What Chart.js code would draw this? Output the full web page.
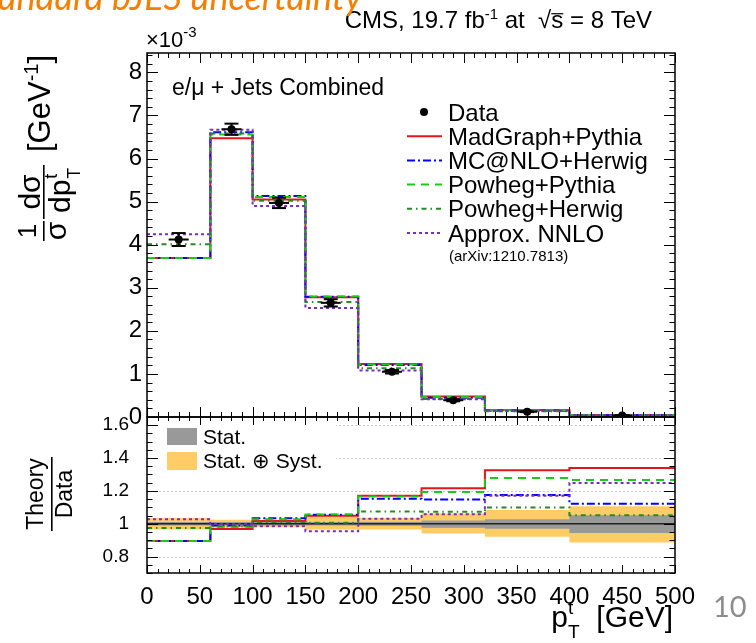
<!DOCTYPE html>
<html>
<head>
<meta charset="utf-8">
<script src="https://cdn.jsdelivr.net/npm/chart.js@4.4.1/dist/chart.umd.min.js"></script>
<style>
  html, body { margin: 0; padding: 0; background: #fff; }
  #wrap { position: relative; width: 756px; height: 643px; }
</style>
</head>
<body>
<div id="wrap"><canvas id="ptChart" width="756" height="643"></canvas></div>
<script>
// top quark pT, normalised differential cross section (units of 1e-3 GeV^-1)
const binEdges = [0, 60, 100, 150, 200, 260, 320, 400, 500];
const dataX = [30, 80, 125, 174, 232, 290, 360, 450];
const dataY = [4.12, 6.68, 4.97, 2.65, 1.05, 0.39, 0.123, 0.035];
const dataErr = [0.15, 0.13, 0.12, 0.085, 0.04, 0.025, 0.01, 0.004];

const madgraphPythia = [3.69, 6.47, 5.05, 2.78, 1.23, 0.474, 0.163, 0.047];
const mcatnloHerwig = [3.69, 6.61, 5.13, 2.79, 1.21, 0.448, 0.145, 0.039];
const powhegPythia = [3.69, 6.56, 5.11, 2.80, 1.22, 0.465, 0.157, 0.044];
const powhegHerwig = [4.01, 6.58, 5.02, 2.67, 1.13, 0.418, 0.135, 0.037];
const approxNNLO = [4.24, 6.67, 4.90, 2.53, 1.08, 0.413, 0.144, 0.044];

// theory / data
const ratioMadgraphPythia = [0.895, 0.968, 1.017, 1.048, 1.171, 1.216, 1.326, 1.339];
const ratioMcatnloHerwig = [0.895, 0.990, 1.033, 1.054, 1.152, 1.148, 1.175, 1.121];
const ratioPowhegPythia = [0.895, 0.982, 1.028, 1.056, 1.166, 1.193, 1.279, 1.267];
const ratioPowhegHerwig = [0.974, 0.985, 1.010, 1.006, 1.075, 1.073, 1.099, 1.052];
const ratioApproxNNLO = [1.028, 0.998, 0.985, 0.954, 1.030, 1.058, 1.170, 1.248];

// uncertainty bands on the ratio
const statLow = [0.99, 0.99, 0.99, 0.99, 0.988, 0.975, 0.97, 0.944];
const statHigh = [1.01, 1.01, 1.01, 1.01, 1.012, 1.02, 1.027, 1.052];
const totalLow = [0.965, 0.975, 0.98, 0.965, 0.965, 0.94, 0.92, 0.885];
const totalHigh = [1.035, 1.025, 1.02, 1.045, 1.035, 1.062, 1.083, 1.107];
const unityRatio = [1, 1];

const xTicks = [0, 50, 100, 150, 200, 250, 300, 350, 400, 450, 500];
const yTicks = [0, 1, 2, 3, 4, 5, 6, 7, 8];
const ratioTicks = [0.8, 1, 1.2, 1.4, 1.6];

const FONT = '"Liberation Sans", Arial, Helvetica, sans-serif';
Chart.defaults.font.family = FONT;

function histPoints(values) {
  const pts = values.map((v, i) => ({ x: binEdges[i], y: v }));
  pts.push({ x: binEdges[binEdges.length - 1], y: values[values.length - 1] });
  return pts;
}

function histLine(label, values, axis, color, dash, order) {
  return {
    type: 'line', label, data: histPoints(values), yAxisID: axis,
    borderColor: color, borderWidth: 2, borderDash: dash, borderCapStyle: 'butt',
    pointRadius: 0, stepped: true, fill: false, order
  };
}

function bandLine(values, color, fillTarget, order) {
  return {
    type: 'line', data: histPoints(values), yAxisID: 'yRatio',
    borderColor: 'rgba(0,0,0,0)', borderWidth: 0, pointRadius: 0, stepped: true,
    backgroundColor: color, fill: fillTarget, order
  };
}

const COLORS = {
  madgraph: '#e3161c',
  mcatnlo: '#0000ff',
  powhegPy: '#18cc18',
  powhegHw: '#238b23',
  nnlo: '#7b2dbd'
};
const DASH = {
  madgraph: [],
  mcatnlo: [8, 3, 2, 3],
  powhegPy: [8, 6],
  powhegHw: [5, 4, 1.5, 4],
  nnlo: [3, 3]
};

const datasets = [
  // upper pad
  histLine('MadGraph+Pythia', madgraphPythia, 'y', COLORS.madgraph, DASH.madgraph, 6),
  histLine('MC@NLO+Herwig', mcatnloHerwig, 'y', COLORS.mcatnlo, DASH.mcatnlo, 5),
  histLine('Powheg+Pythia', powhegPythia, 'y', COLORS.powhegPy, DASH.powhegPy, 4),
  histLine('Powheg+Herwig', powhegHerwig, 'y', COLORS.powhegHw, DASH.powhegHw, 3),
  histLine('Approx. NNLO', approxNNLO, 'y', COLORS.nnlo, DASH.nnlo, 2),
  {
    type: 'line', label: 'Data', yAxisID: 'y', showLine: false,
    data: dataX.map((x, i) => ({ x, y: dataY[i] })),
    pointRadius: 4, pointBackgroundColor: '#000', pointBorderWidth: 0, order: 0
  },
  // ratio pad
  bandLine(totalHigh, '#ffcc66', '+1', 30),
  bandLine(totalLow, '#ffcc66', false, 30),
  bandLine(statHigh, '#999999', '+1', 28),
  bandLine(statLow, '#999999', false, 28),
  {
    type: 'line', yAxisID: 'yRatio',
    data: [binEdges[0], binEdges[8]].map((x, i) => ({ x, y: unityRatio[i] })),
    borderColor: '#222', borderWidth: 1.5, pointRadius: 0, fill: false, order: 20
  },
  histLine('r1', ratioMadgraphPythia, 'yRatio', COLORS.madgraph, DASH.madgraph, 16),
  histLine('r2', ratioMcatnloHerwig, 'yRatio', COLORS.mcatnlo, DASH.mcatnlo, 15),
  histLine('r3', ratioPowhegPythia, 'yRatio', COLORS.powhegPy, DASH.powhegPy, 14),
  histLine('r4', ratioPowhegHerwig, 'yRatio', COLORS.powhegHw, DASH.powhegHw, 13),
  histLine('r5', ratioApproxNNLO, 'yRatio', COLORS.nnlo, DASH.nnlo, 12)
];
const DATA_INDEX = 5;

function seg(ctx, x1, y1, x2, y2) {
  ctx.beginPath();
  ctx.moveTo(x1, y1);
  ctx.lineTo(x2, y2);
  ctx.stroke();
}

// ROOT-style inward ticks on all four sides of a pad
function padTicks(ctx, xs, ys, o) {
  ctx.strokeStyle = '#000';
  ctx.lineWidth = 1;
  const nx = Math.round((xs.max - xs.min) / o.xMinor);
  for (let i = 0; i <= nx; i++) {
    const v = xs.min + i * o.xMinor;
    const px = Math.round(xs.getPixelForValue(v)) + 0.5;
    const major = Math.abs(v / o.xMajor - Math.round(v / o.xMajor)) < 1e-6;
    const len = major ? o.xLen : o.xLen / 2;
    seg(ctx, px, ys.bottom, px, ys.bottom - len);
    seg(ctx, px, ys.top, px, ys.top + len);
  }
  const start = Math.ceil(ys.min / o.yMinor - 1e-6);
  const end = Math.floor(ys.max / o.yMinor + 1e-6);
  for (let k = start; k <= end; k++) {
    const v = k * o.yMinor;
    const py = Math.round(ys.getPixelForValue(v)) + 0.5;
    const major = Math.abs(v / o.yMajor - Math.round(v / o.yMajor)) < 1e-6;
    const len = major ? o.yLen : o.yLen / 2;
    seg(ctx, xs.left, py, xs.left + len, py);
    seg(ctx, xs.right, py, xs.right - len, py);
  }
  ctx.lineWidth = 1.5;
  ctx.strokeRect(xs.left, ys.top, xs.right - xs.left, ys.bottom - ys.top);
}

// text made of pieces with super/subscripts
function richWidth(ctx, parts) {
  let w = 0;
  parts.forEach(p => {
    ctx.font = p.size + 'px ' + FONT;
    if (!p.stack) w += ctx.measureText(p.t).width;
  });
  return w;
}
function drawRich(ctx, parts, x, y) {
  let cx = x;
  parts.forEach(p => {
    ctx.font = p.size + 'px ' + FONT;
    ctx.fillText(p.t, cx, y + (p.dy || 0));
    const pw = ctx.measureText(p.t).width;
    if (p.over) ctx.fillRect(cx, y - p.size * 0.62, pw, 1.2);
    if (!p.stack) cx += pw;
  });
}

const rootPad = {
  id: 'rootPad',
  beforeDatasetsDraw(chart) {
    const { ctx } = chart;
    const xs = chart.scales.x, rs = chart.scales.yRatio;
    ctx.save();
    ctx.strokeStyle = '#c8c8c8';
    ctx.lineWidth = 1;
    ctx.setLineDash([2, 2]);
    ratioTicks.filter(v => v !== 1).forEach(v => {
      const py = Math.round(rs.getPixelForValue(v)) + 0.5;
      seg(ctx, xs.left, py, xs.right, py);
    });
    ctx.setLineDash([]);
    // white legend box hides the grid behind it
    ctx.fillStyle = '#fff';
    ctx.fillRect(xs.left + 1, rs.top + 1, 188, 60);
    ctx.restore();
  },
  beforeDatasetDraw(chart, args) {
    if (args.index !== DATA_INDEX) return;
    const { ctx } = chart;
    const xs = chart.scales.x, ys = chart.scales.y;
    ctx.save();
    ctx.strokeStyle = '#000';
    ctx.lineWidth = 2;
    dataX.forEach((x, i) => {
      const px = xs.getPixelForValue(x);
      const py = ys.getPixelForValue(dataY[i]);
      const hi = ys.getPixelForValue(dataY[i] + dataErr[i]);
      const lo = ys.getPixelForValue(dataY[i] - dataErr[i]);
      seg(ctx, px, hi, px, lo);
      seg(ctx, px - 7, hi, px + 7, hi);
      seg(ctx, px - 7, lo, px + 7, lo);
      seg(ctx, px - 10, py, px + 10, py);
    });
    ctx.restore();
  },
  afterDatasetsDraw(chart) {
    const { ctx } = chart;
    const xs = chart.scales.x, ys = chart.scales.y, rs = chart.scales.yRatio;
    ctx.save();
    padTicks(ctx, xs, ys, { xMajor: 50, xMinor: 10, xLen: 10, yMajor: 1, yMinor: 0.2, yLen: 11 });
    padTicks(ctx, xs, rs, { xMajor: 50, xMinor: 10, xLen: 8, yMajor: 0.2, yMinor: 0.05, yLen: 11 });

    // upper legend
    const entries = [
      ['Data', null],
      ['MadGraph+Pythia', 'madgraph'],
      ['MC@NLO+Herwig', 'mcatnlo'],
      ['Powheg+Pythia', 'powhegPy'],
      ['Powheg+Herwig', 'powhegHw'],
      ['Approx. NNLO', 'nnlo']
    ];
    ctx.fillStyle = '#000';
    ctx.textAlign = 'left';
    ctx.textBaseline = 'alphabetic';
    entries.forEach(([label, key], i) => {
      const cy = 112 + i * 24.2;
      if (key) {
        ctx.strokeStyle = COLORS[key];
        ctx.lineWidth = 2;
        ctx.setLineDash(DASH[key]);
        seg(ctx, 407, cy, 442, cy);
        ctx.setLineDash([]);
      } else {
        ctx.beginPath();
        ctx.arc(424, cy, 4, 0, Math.PI * 2);
        ctx.fill();
      }
      ctx.font = '24px ' + FONT;
      ctx.fillText(label, 448, cy + 8.6);
    });
    ctx.font = '15px ' + FONT;
    ctx.fillText('(arXiv:1210.7813)', 449, 261);

    // ratio legend
    ctx.fillStyle = '#999999';
    ctx.fillRect(167, 428, 30, 17);
    ctx.fillStyle = '#ffcc66';
    ctx.fillRect(167, 452, 30, 18);
    ctx.fillStyle = '#000';
    ctx.font = '21px ' + FONT;
    ctx.fillText('Stat.', 203, 444);
    ctx.fillText('Stat. \u2295 Syst.', 203, 468);
    ctx.restore();
  },
  afterDraw(chart) {
    const { ctx } = chart;
    ctx.save();
    ctx.fillStyle = '#000';
    ctx.textBaseline = 'alphabetic';
    ctx.textAlign = 'left';

    // headline
    const cms = [
      { t: 'CMS, 19.7 fb', size: 24 },
      { t: '-1', size: 15, dy: -9 },
      { t: ' at  \u221A', size: 24 },
      { t: 's', size: 24, over: true },
      { t: ' = 8 TeV', size: 24 }
    ];
    drawRich(ctx, cms, 652 - richWidth(ctx, cms), 28);

    drawRich(ctx, [{ t: '\u00D710', size: 22 }, { t: '-3', size: 15, dy: -10 }], 146, 47);

    ctx.font = '23px ' + FONT;
    ctx.fillText('e/\u03BC + Jets Combined', 172, 95);

    // x axis title
    const xt = [
      { t: 'p', size: 30 },
      { t: 't', size: 19, dy: -13, stack: true },
      { t: 'T', size: 19, dy: 11 },
      { t: '  [GeV]', size: 30 }
    ];
    drawRich(ctx, xt, 673 - richWidth(ctx, xt), 627);

    // y axis titles (rotated: x' = -screenY, y' = screenX)
    ctx.rotate(-Math.PI / 2);
    ctx.textAlign = 'center';
    ctx.font = '26px ' + FONT;
    ctx.fillText('1', -231, 36);
    ctx.font = '30px ' + FONT;
    ctx.fillText('\u03C3', -231, 66);
    ctx.fillRect(-241, 43, 20, 1.6);

    ctx.fillText('d\u03C3', -192, 40);
    ctx.fillRect(-219, 43, 54, 1.6);
    ctx.textAlign = 'left';
    const dpW = ctx.measureText('dp').width;
    ctx.fillText('dp', -213, 70);
    ctx.font = '18px ' + FONT;
    ctx.fillText('t', -213 + dpW + 1, 57);
    ctx.fillText('T', -213 + dpW + 1, 80);

    drawRich(ctx, [
      { t: '[GeV', size: 31 },
      { t: '-1', size: 20, dy: -12 },
      { t: ']', size: 31 }
    ], -152, 50);

    ctx.textAlign = 'center';
    ctx.font = '23px ' + FONT;
    ctx.fillText('Theory', -494, 43);
    ctx.fillRect(-531, 51, 74, 1.6);
    ctx.fillText('Data', -494, 72);
    ctx.restore();

    // slide decoration around the figure
    ctx.save();
    ctx.textAlign = 'right';
    ctx.fillStyle = '#f77f00';
    ctx.font = 'italic 36px Lato, "Open Sans", sans-serif';
    ctx.fillText('Standard bJES uncertainty', 362, 10);
    ctx.textAlign = 'left';
    ctx.fillStyle = '#8c8c8c';
    ctx.font = '29px Lato, "Open Sans", sans-serif';
    ctx.fillText('10', 713, 617);
    ctx.restore();
  }
};

new Chart(document.getElementById('ptChart'), {
  type: 'line',
  data: { datasets },
  plugins: [rootPad],
  options: {
    responsive: false,
    animation: false,
    devicePixelRatio: 1,
    layout: { padding: { top: 53, right: 81, left: 0, bottom: 0 } },
    plugins: { legend: { display: false }, tooltip: { enabled: false } },
    scales: {
      x: {
        type: 'linear', min: 0, max: 500, position: 'bottom',
        grid: { display: false }, border: { display: false },
        afterBuildTicks: s => { s.ticks = xTicks.map(v => ({ value: v })); },
        afterFit: s => { s.height = 70; },
        ticks: {
          autoSkip: false, maxRotation: 0, padding: 2, color: '#000',
          font: { size: 24 }, callback: v => String(v)
        }
      },
      yRatio: {
        type: 'linear', axis: 'y', min: 0.7, max: 1.65, position: 'left', stack: 'pads', stackWeight: 156,
        grid: { display: false, drawTicks: false }, border: { display: false },
        afterBuildTicks: s => { s.ticks = ratioTicks.map(v => ({ value: v })); },
        afterFit: s => { s.width = 147; },
        ticks: { autoSkip: false, padding: 18, color: '#000', font: { size: 19 }, callback: v => String(v) }
      },
      y: {
        type: 'linear', axis: 'y', min: 0, max: 8.45, position: 'left', stack: 'pads', stackWeight: 364,
        grid: { display: false, drawTicks: false }, border: { display: false },
        afterBuildTicks: s => { s.ticks = yTicks.map(v => ({ value: v })); },
        afterFit: s => { s.width = 147; },
        ticks: { autoSkip: false, padding: 5, color: '#000', font: { size: 24 }, callback: v => String(v) }
      }
    }
  }
});
</script>
</body>
</html>
